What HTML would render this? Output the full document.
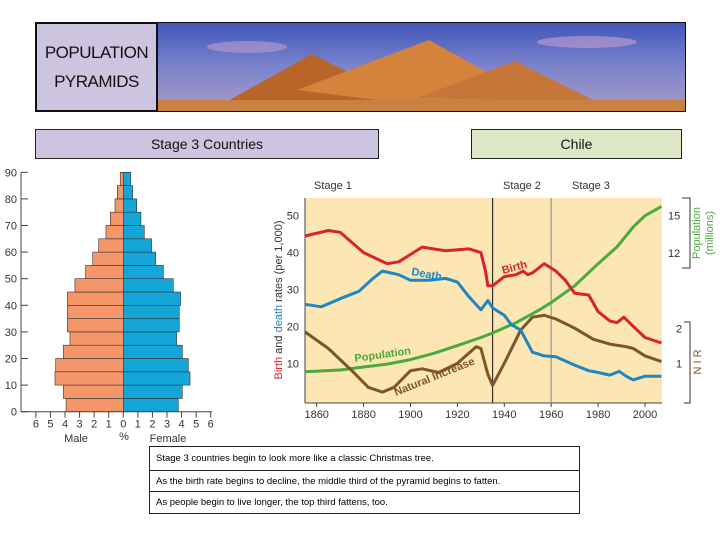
<!DOCTYPE html>
<html><head><meta charset="utf-8">
<style>
body{margin:0;width:720px;height:540px;background:#fff;font-family:"Liberation Sans",sans-serif;position:relative;overflow:hidden}
.box{position:absolute;box-sizing:border-box;border:1px solid #222;display:flex;align-items:center;justify-content:center;font-size:14px;color:#111}
.row{position:absolute;left:149px;width:431px;box-sizing:border-box;border:1px solid #222;font-size:9.5px;padding-left:6px;display:flex;align-items:center}
</style></head><body>
<div class="box" style="left:35px;top:22px;width:123px;height:90px;background:#cdc5df;border:2px solid #111;font-size:17px;text-align:center;line-height:29px;letter-spacing:-0.5px">POPULATION<br>PYRAMIDS</div>
<svg style="position:absolute;left:157px;top:22px" width="529" height="90">
<defs><linearGradient id="sky" x1="0" y1="0" x2="0" y2="1"><stop offset="0" stop-color="#3f55b8"/><stop offset="0.5" stop-color="#7d84cc"/><stop offset="1" stop-color="#a89cc6"/></linearGradient></defs>
<rect width="529" height="90" fill="url(#sky)"/>
<ellipse cx="90" cy="25" rx="40" ry="6" fill="#b99cd0" opacity="0.6"/>
<ellipse cx="430" cy="20" rx="50" ry="6" fill="#c7a0d0" opacity="0.6"/>
<polygon points="60,85 155,32 260,85" fill="#b9652a"/>
<polygon points="140,68 272,18 380,78 300,88" fill="#d4823c"/>
<polygon points="260,76 358,39 440,80" fill="#c7763a"/>
<rect y="78" width="529" height="12" fill="#c98040"/>
<rect x="0" y="0" width="529" height="90" fill="none" stroke="#111" stroke-width="2"/>
</svg>
<div class="box" style="left:35px;top:129px;width:344px;height:30px;background:#cdc5df">Stage 3 Countries</div>
<div class="box" style="left:471px;top:129px;width:211px;height:30px;background:#dfe8c6">Chile</div>

<svg id="pyr" style="position:absolute;left:0;top:165px" width="230" height="285"></svg>
<svg id="ch" style="position:absolute;left:0;top:0" width="720" height="440"></svg>

<div class="row" style="top:446px;height:25px">Stage 3 countries begin to look more like a classic Christmas tree.</div>
<div class="row" style="top:470px;height:22px">As the birth rate begins to decline, the middle third of the pyramid begins to fatten.</div>
<div class="row" style="top:491px;height:23px">As people begin to live longer, the top third fattens, too.</div>

<script>
const ageGroups=["0-4","5-9","10-14","15-19","20-24","25-29","30-34","35-39","40-44","45-49","50-54","55-59","60-64","65-69","70-74","75-79","80-84","85-89"];
const malePct=[3.93,4.12,4.69,4.64,4.12,3.66,3.84,3.84,3.84,3.32,2.59,2.1,1.69,1.19,0.89,0.57,0.41,0.21];
const femalePct=[3.77,4.05,4.58,4.46,4.05,3.66,3.84,3.84,3.93,3.43,2.75,2.22,1.94,1.44,1.21,0.92,0.64,0.5];
const pyrAgeTicks=[0,10,20,30,40,50,60,70,80,90];
const pyrPctTicks=[6,5,4,3,2,1,0,1,2,3,4,5,6];

const years=[1855,1865,1870,1880,1890,1895,1905,1915,1925,1930,1932,1933,1935,1940,1945,1948,1950,1952,1957,1962,1966,1970,1976,1980,1985,1988,1991,1995,2000,2007];
const birthRate=[44.5,46,45.5,40,37,37.5,41.5,40.5,41,40,35,31,31,33.5,34,35,34,34.5,37,35,32.5,29,28.5,24,21.5,21,22.5,20,17,15.5];
const deathYears=[1855,1862,1870,1878,1884,1888,1895,1900,1908,1915,1920,1925,1930,1933,1935,1940,1943,1947,1952,1957,1962,1970,1976,1980,1985,1989,1992,1995,2000,2007];
const deathRate=[26,25.3,27.5,29.5,33,35,34,32.5,32.5,33,32,28,24.5,27,25,23,20.5,19,13,12,11.8,9.5,8,7.5,6.8,7.8,6.5,5.5,6.5,6.5];
const niYears=[1855,1865,1875,1882,1888,1893,1900,1905,1912,1920,1928,1930,1933,1935,1940,1947,1952,1957,1962,1970,1978,1985,1992,1995,2000,2007];
const naturalIncrease=[18.5,14,8,3.5,2.2,3.5,8,8.5,7.5,10,14.5,14,7,4,10,19,22.5,23,22,19.5,16.5,15.2,14.5,14,12,10.5];
const popYears=[1855,1870,1880,1890,1900,1910,1920,1930,1935,1945,1955,1960,1970,1980,1988,1995,2000,2007];
const populationM=[2.44,2.59,2.83,3.06,3.42,3.93,4.55,5.2,5.56,6.39,7.43,8.02,9.36,11.14,12.48,14.1,15,15.74];
const rateTicks=[10,20,30,40,50];
const yearTicks=[1860,1880,1900,1920,1940,1960,1980,2000];
const popTicks=[12,15];
const nirTicks=[1,2];

const NS="http://www.w3.org/2000/svg";
function mk(p,t,a,txt){const e=document.createElementNS(NS,t);for(const k in a)e.setAttribute(k,a[k]);if(txt!=null)e.textContent=txt;p.appendChild(e);return e;}

const P=document.getElementById('pyr');
const cx=123.3, pxPct=14.57, ageY=a=>246.7-a*2.66;
ageGroups.forEach((g,i)=>{
  const y0=ageY(i*5), y1=ageY(i*5+5);
  const m=mk(P,'rect',{x:cx-malePct[i]*pxPct,y:y1,width:malePct[i]*pxPct,height:y0-y1,fill:'#f4956a',stroke:'#333','stroke-width':0.6});
  
  
  const f=mk(P,'rect',{x:cx,y:y1,width:femalePct[i]*pxPct,height:y0-y1,fill:'#14a6d8',stroke:'#333','stroke-width':0.6});
  
  
});
mk(P,'line',{x1:21,y1:ageY(0),x2:21,y2:ageY(90),stroke:'#444'});
mk(P,'line',{x1:21,y1:ageY(0),x2:212,y2:ageY(0),stroke:'#444'});
pyrAgeTicks.forEach(a=>{mk(P,'line',{x1:21,y1:ageY(a),x2:28,y2:ageY(a),stroke:'#444'});
  const t=mk(P,'text',{x:17,y:ageY(a)+4,'font-size':11,'text-anchor':'end',fill:'#333'},a);
  });
pyrPctTicks.forEach((v,i)=>{const x=cx+(i-6)*pxPct;mk(P,'line',{x1:x,y1:ageY(0),x2:x,y2:ageY(0)+6,stroke:'#444'});
  const t=mk(P,'text',{x:x,y:ageY(0)+16,'font-size':11,'text-anchor':'middle',fill:'#333'},v);
  });
mk(P,'text',{x:76,y:277,'font-size':11,'text-anchor':'middle',fill:'#333'},'Male');
mk(P,'text',{x:124,y:275,'font-size':11,'text-anchor':'middle',fill:'#333'},'%');
mk(P,'text',{x:168,y:277,'font-size':11,'text-anchor':'middle',fill:'#333'},'Female');

const C=document.getElementById('ch');
const X=y=>316.7+(y-1860)*2.345, Y=v=>363.3-(v-10)*3.69, YP=p=>215.7-(p-15)*12.43, YN=n=>363.3-(n-1)*35;
mk(C,'rect',{x:305,y:198,width:357,height:205,fill:'#fbe6b4'});
mk(C,'line',{x1:305,y1:198,x2:305,y2:403,stroke:'#444'});
mk(C,'line',{x1:305,y1:403,x2:662,y2:403,stroke:'#444'});
mk(C,'line',{x1:X(1935),y1:198,x2:X(1935),y2:403,stroke:'#333','stroke-width':1.2});
mk(C,'line',{x1:X(1960),y1:198,x2:X(1960),y2:403,stroke:'#999','stroke-width':1.2});
rateTicks.forEach(v=>{const t=mk(C,'text',{x:299,y:Y(v)+4,'font-size':11,'text-anchor':'end',fill:'#333'},v);});
yearTicks.forEach(v=>{mk(C,'line',{x1:X(v),y1:403,x2:X(v),y2:407,stroke:'#444'});const t=mk(C,'text',{x:X(v),y:418,'font-size':11,'text-anchor':'middle',fill:'#333'},v);});
popTicks.forEach(v=>{const t=mk(C,'text',{x:668,y:YP(v)+4,'font-size':11,fill:'#333'},v);});
nirTicks.forEach(v=>{const t=mk(C,'text',{x:676,y:YN(v)+4,'font-size':11,fill:'#333'},v);});
mk(C,'path',{d:'M682,198 H690 V268 H682',fill:'none',stroke:'#333'});
mk(C,'path',{d:'M684,322 H690 V403 H684',fill:'none',stroke:'#333'});
function series(xs,vs,sc,col,name){const d=xs.map((x,i)=>(i?'L':'M')+X(x).toFixed(1)+','+sc(vs[i]).toFixed(1)).join('');
  const e=mk(C,'path',{d:d,fill:'none',stroke:col,'stroke-width':3,'stroke-linejoin':'round'});
  }
series(popYears,populationM,YP,'#4caa3c','population-line');
series(niYears,naturalIncrease,Y,'#7f5525','natural-increase-line');
series(deathYears,deathRate,Y,'#1e86c0','death-rate-line');
series(years,birthRate,Y,'#d8232e','birth-rate-line');
const lab=(x,y,r,c,t,n)=>{const e=mk(C,'text',{x:x,y:y,'font-size':11,'font-weight':'bold',fill:c,transform:`rotate(${r} ${x} ${y})`},t);};
lab(411,275,10,'#1e86c0','Death','death-label');
lab(503,274,-15,'#d8232e','Birth','birth-label');
lab(355,362,-8,'#4caa3c','Population','population-label');
lab(396,396,-22,'#7f5525','Natural Increase','natural-increase-label');
[['Stage 1',314],['Stage 2',503],['Stage 3',572]].forEach(s=>{const e=mk(C,'text',{x:s[1],y:189,'font-size':11,fill:'#333'},s[0]);});
const yl=mk(C,'text',{x:282,y:300,'font-size':11,'text-anchor':'middle',transform:'rotate(-90 282 300)',fill:'#333'});

yl.innerHTML='<tspan fill="#d8232e">Birth</tspan> and <tspan fill="#1e86c0">death</tspan> rates (per 1,000)';
mk(C,'text',{x:700,y:233,'font-size':11,'text-anchor':'middle',fill:'#4caa3c',transform:'rotate(-90 700 233)'},'Population');
mk(C,'text',{x:713,y:233,'font-size':11,'text-anchor':'middle',fill:'#4caa3c',transform:'rotate(-90 713 233)'},'(millions)');
mk(C,'text',{x:701,y:362,'font-size':11,'text-anchor':'middle',fill:'#7f5525',transform:'rotate(-90 701 362)'},'N I R');
</script>
</body></html>
